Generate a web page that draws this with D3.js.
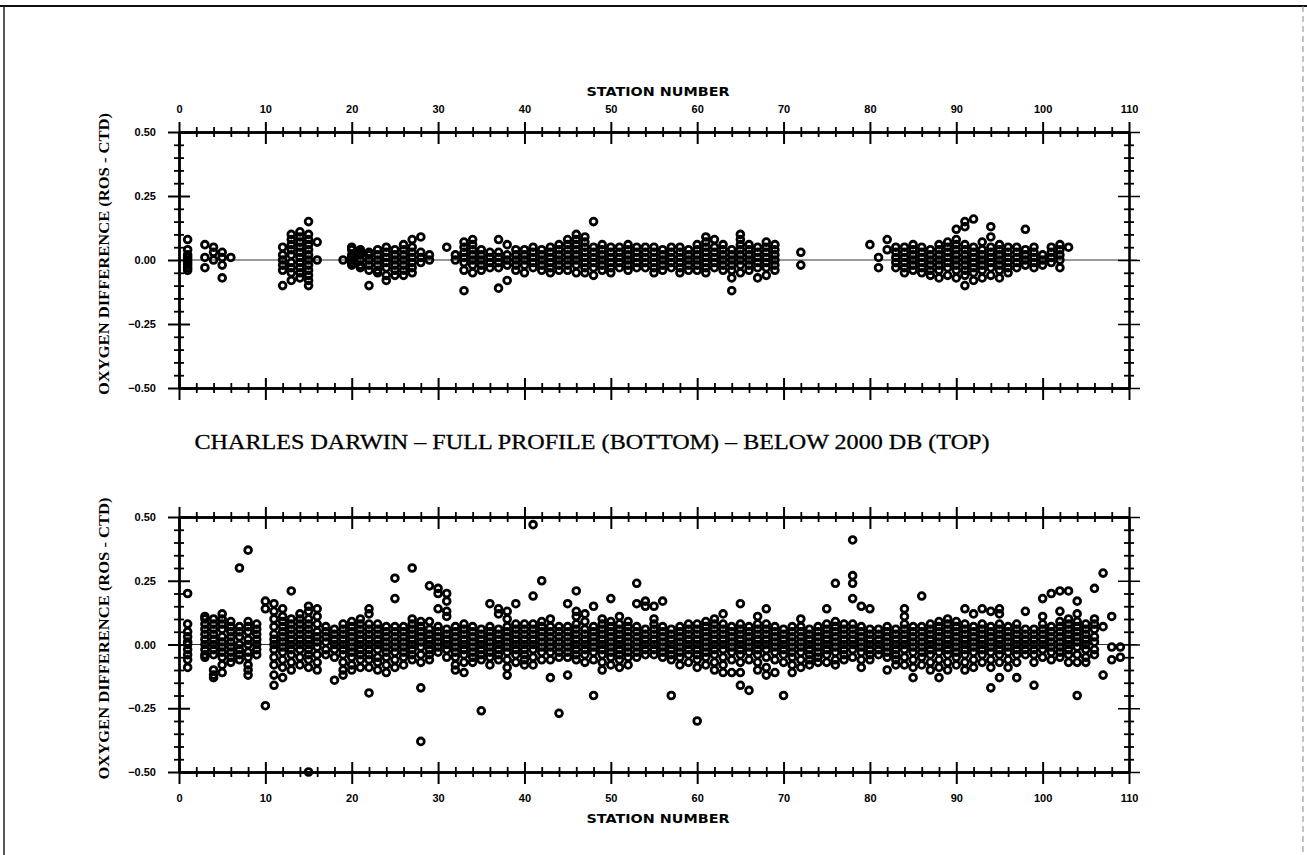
<!DOCTYPE html>
<html>
<head>
<meta charset="utf-8">
<script src="https://cdn.jsdelivr.net/npm/d3@7"></script>
<style>
  html, body { margin: 0; padding: 0; background: #fff; }
  svg { display: block; }
  .tick text { font-family: "Liberation Sans", Arial, sans-serif; font-weight: bold; font-size: 11px; fill: #000; }
</style>
</head>
<body>
<svg id="chart" width="1307" height="855"></svg>
<script>
// Station axis
const stationTicks = [0, 10, 20, 30, 40, 50, 60, 70, 80, 90, 100, 110];
const diffTicks = [-0.5, -0.25, 0, 0.25, 0.5];

// Samples below 2000 db (upper panel): station numbers and ROS - CTD oxygen differences
const stationsDeep = [1,3,4,5,6,12,13,14,15,16,19,20,21,22,23,24,25,26,27,28,29,31,32,
  33,34,35,36,37,38,39,40,41,42,43,44,45,46,47,48,49,50,51,52,53,54,55,56,57,58,59,60,
  61,62,63,64,65,66,67,68,69,72,80,81,82,83,84,85,86,87,88,89,90,91,92,93,94,95,96,97,
  98,99,100,101,102,103];
const oxyDiffDeep = [
  [.08,.04,.02,.01,0,-.01,-.02,-.03,-.04],
  [.06,.01,-.03],
  [.05,.03,0],
  [.03,.01,-.02,-.07],
  [.01],
  [.05,.02,0,-.02,-.04,-.1],
  [.1,.08,.06,.04,.02,-.01,-.03,-.05,-.08],
  [.11,.09,.07,.05,.03,.01,-.01,-.03,-.05,-.07],
  [.15,.1,.08,.06,.04,.02,0,-.02,-.04,-.06,-.08,-.1],
  [.07,0],
  [0],
  [.05,.04,.02,.01,0,-.01,-.02],
  [.04,.03,.02,0,-.02,-.03],
  [.03,.02,0,-.02,-.04,-.1],
  [.04,.02,0,-.02,-.04,-.05],
  [.05,.03,.01,-.01,-.03,-.06,-.08],
  [.04,.02,0,-.02,-.04,-.06],
  [.06,.04,.02,0,-.02,-.04,-.06],
  [.08,.05,.03,.01,-.01,-.03,-.05],
  [.09,.03,.01,-.01],
  [.02,0],
  [.05],
  [.02,0],
  [.07,.05,.03,.01,-.01,-.04,-.12],
  [.08,.06,.04,.02,0,-.02,-.05],
  [.04,.02,0,-.02,-.04],
  [.03,.01,-.01,-.03],
  [.08,.03,.01,-.01,-.03,-.11],
  [.06,.02,0,-.02,-.08],
  [.04,.02,0,-.02,-.04],
  [.04,.02,0,-.02,-.05],
  [.05,.03,.01,-.01,-.03],
  [.04,.02,0,-.02,-.04],
  [.05,.03,.01,-.01,-.03,-.05],
  [.06,.04,.02,0,-.02,-.04],
  [.08,.06,.04,.02,0,-.02,-.04],
  [.1,.08,.06,.04,.02,0,-.02,-.05],
  [.09,.07,.05,.03,.01,-.01,-.03,-.05],
  [.15,.05,.03,.01,-.01,-.03,-.06],
  [.06,.04,.02,0,-.02,-.04],
  [.05,.03,.01,-.01,-.03,-.05],
  [.05,.03,.01,-.01,-.03],
  [.06,.04,.02,0,-.02,-.04],
  [.05,.03,.01,-.01,-.03],
  [.05,.03,.01,-.01,-.03],
  [.05,.03,.01,-.01,-.03,-.05],
  [.04,.02,0,-.02,-.04],
  [.05,.03,.01,-.01,-.03],
  [.05,.03,.01,-.01,-.03,-.05],
  [.04,.02,0,-.02,-.04],
  [.06,.04,.02,0,-.02,-.04],
  [.09,.07,.05,.03,.01,-.01,-.03,-.05],
  [.08,.05,.03,.01,-.01,-.03],
  [.06,.04,.02,0,-.02,-.04],
  [.04,.02,0,-.02,-.04,-.07,-.12],
  [.1,.08,.06,.04,.02,0,-.02,-.05],
  [.06,.04,.02,0,-.02,-.04],
  [.05,.03,.01,-.01,-.03,-.07],
  [.07,.05,.03,.01,-.01,-.03,-.06],
  [.06,.04,.02,0,-.02,-.04],
  [.03,-.02],
  [.06],
  [.01,-.03],
  [.08,.04],
  [.05,.03,.01,-.01,-.03],
  [.05,.03,.01,-.01,-.03,-.05],
  [.06,.04,.02,0,-.02,-.04],
  [.05,.03,.01,-.01,-.03,-.05],
  [.04,.02,0,-.02,-.04,-.06],
  [.06,.04,.02,0,-.02,-.04,-.07],
  [.07,.05,.03,.01,-.01,-.03,-.06],
  [.12,.08,.06,.04,.02,0,-.02,-.04,-.07],
  [.15,.13,.06,.04,.02,0,-.02,-.04,-.06,-.1],
  [.16,.05,.03,.01,-.01,-.03,-.05,-.08],
  [.07,.04,.02,0,-.02,-.04,-.07],
  [.13,.09,.05,.03,.01,-.01,-.03,-.06],
  [.06,.04,.02,0,-.02,-.04,-.07],
  [.05,.03,.01,-.01,-.03,-.05],
  [.05,.03,.01,-.01,-.03],
  [.12,.04,.02,0,-.02],
  [.05,.03,.01,-.01,-.03],
  [.02,0,-.02],
  [.05,.03,.01,-.01],
  [.06,.04,.02,0,-.03],
  [.05]
];

// Full-profile samples (lower panel)
const stationsFull = [1,3,4,5,6,7,8,9,10,11,12,13,14,15,16,17,18,19,20,21,22,23,24,25,
  26,27,28,29,30,31,32,33,34,35,36,37,38,39,40,41,42,43,44,45,46,47,48,49,50,51,52,53,
  54,55,56,57,58,59,60,61,62,63,64,65,66,67,68,69,70,71,72,73,74,75,76,77,78,79,80,81,
  82,83,84,85,86,87,88,89,90,91,92,93,94,95,96,97,98,99,100,101,102,103,104,105,106,
  107,108,109];
const oxyDiffFull = [
  [.2,.08,.05,.03,.01,0,-.02,-.04,-.06,-.09],
  [.11,.1,.08,.06,.04,.02,0,-.02,-.04,-.05],
  [.1,.08,.06,.04,.02,0,-.02,-.04,-.1,-.12,-.13],
  [.12,.1,.08,.06,.03,.01,-.01,-.03,-.05,-.08,-.11],
  [.09,.07,.05,.03,.01,-.01,-.03,-.05,-.07],
  [.3,.07,.05,.03,0,-.02,-.04,-.06],
  [.37,.09,.07,.05,.02,0,-.03,-.05,-.08,-.1,-.12],
  [.08,.06,.04,.02,0,-.02,-.04],
  [.17,.14,-.24],
  [.16,.13,.1,.07,.04,.02,0,-.02,-.05,-.08,-.12,-.16],
  [.14,.11,.09,.07,.05,.03,.01,-.01,-.03,-.06,-.09,-.13],
  [.21,.1,.08,.06,.04,.02,0,-.02,-.04,-.07,-.1],
  [.12,.1,.08,.06,.04,.02,0,-.02,-.05,-.08],
  [.15,.13,.1,.08,.06,.04,.02,0,-.02,-.04,-.06,-.09,-.5],
  [.14,.11,.08,.05,.03,.01,-.01,-.04,-.07,-.1],
  [.07,.05,.03,.01,-.02,-.04],
  [.06,.04,.02,0,-.02,-.05,-.14],
  [.08,.06,.04,.02,0,-.02,-.04,-.07,-.1,-.12],
  [.09,.07,.05,.03,.01,-.01,-.03,-.05,-.08,-.1],
  [.1,.08,.06,.04,.02,0,-.02,-.04,-.06,-.09],
  [.14,.12,.08,.06,.04,.02,0,-.02,-.04,-.06,-.09,-.19],
  [.08,.06,.04,.02,0,-.02,-.05,-.07,-.1],
  [.07,.05,.03,.01,-.01,-.03,-.05,-.08,-.11],
  [.26,.18,.07,.05,.03,.01,-.01,-.03,-.06,-.09],
  [.07,.05,.03,.01,-.01,-.03,-.05,-.08],
  [.3,.1,.08,.06,.04,.02,0,-.02,-.04,-.06],
  [.09,.07,.05,.03,.01,-.01,-.04,-.07,-.17,-.38],
  [.23,.09,.06,.04,.02,0,-.02,-.04,-.06],
  [.22,.2,.14,.07,.05,.03,.01,-.01,-.03],
  [.2,.17,.13,.11,.06,.04,.02,0,-.02,-.05],
  [.07,.05,.03,.01,-.01,-.03,-.05,-.08,-.1],
  [.08,.06,.04,.02,0,-.02,-.04,-.07,-.11],
  [.07,.05,.03,.01,-.01,-.03,-.05,-.07],
  [.06,.04,.02,0,-.02,-.04,-.06,-.26],
  [.16,.07,.05,.03,.01,-.01,-.03,-.05,-.08],
  [.14,.12,.06,.04,.02,0,-.02,-.04,-.06],
  [.13,.1,.07,.05,.03,.01,-.01,-.03,-.06,-.09,-.12],
  [.16,.08,.06,.04,.02,0,-.02,-.04,-.07],
  [.08,.06,.04,.02,0,-.02,-.04,-.06,-.08],
  [.47,.19,.08,.06,.04,.02,0,-.02,-.05,-.08],
  [.25,.09,.07,.05,.03,.01,-.01,-.03,-.06],
  [.1,.07,.05,.03,.01,-.01,-.03,-.06,-.13],
  [.07,.05,.03,.01,-.01,-.03,-.05,-.27],
  [.16,.07,.05,.03,.01,-.01,-.03,-.05,-.12],
  [.21,.13,.11,.08,.06,.04,.02,0,-.02,-.04,-.06],
  [.12,.09,.06,.04,.02,0,-.02,-.04,-.07],
  [.15,.07,.05,.03,.01,-.01,-.03,-.06,-.2],
  [.1,.08,.06,.04,.02,0,-.02,-.04,-.07,-.1],
  [.18,.09,.07,.05,.03,.01,-.01,-.03,-.05,-.08],
  [.11,.08,.06,.04,.02,0,-.02,-.04,-.06,-.09],
  [.09,.07,.05,.03,.01,-.01,-.03,-.05,-.08],
  [.24,.16,.07,.05,.03,.01,-.01,-.03,-.05],
  [.17,.15,.06,.04,.02,0,-.02,-.04],
  [.15,.1,.08,.06,.04,.02,0,-.02,-.04],
  [.17,.07,.05,.03,.01,-.01,-.03,-.05],
  [.06,.04,.02,0,-.02,-.04,-.06,-.2],
  [.07,.05,.03,.01,-.01,-.03,-.05,-.08],
  [.08,.06,.04,.02,0,-.02,-.04,-.07],
  [.08,.06,.04,.02,0,-.02,-.04,-.06,-.09,-.3],
  [.09,.07,.05,.03,.01,-.01,-.03,-.05,-.08],
  [.1,.08,.06,.04,.02,0,-.02,-.04,-.07,-.1],
  [.12,.08,.06,.04,.02,0,-.02,-.05,-.08,-.11],
  [.07,.05,.03,.01,-.01,-.03,-.06,-.11],
  [.16,.08,.06,.04,.02,0,-.02,-.04,-.07,-.11,-.16],
  [.07,.05,.03,.01,-.01,-.03,-.06,-.18],
  [.11,.08,.06,.04,.02,0,-.02,-.04,-.07,-.1],
  [.14,.08,.06,.04,.02,0,-.02,-.05,-.09,-.12],
  [.07,.05,.03,.01,-.01,-.03,-.06,-.11],
  [.06,.04,.02,0,-.02,-.04,-.07,-.2],
  [.07,.05,.03,.01,-.01,-.03,-.05,-.08,-.11],
  [.1,.07,.05,.03,.01,-.01,-.03,-.06,-.09],
  [.06,.04,.02,0,-.02,-.04,-.06,-.08],
  [.07,.05,.03,.01,-.01,-.03,-.05,-.07],
  [.14,.08,.06,.04,.02,0,-.02,-.04,-.07],
  [.24,.09,.07,.05,.03,.01,-.01,-.03,-.06,-.08],
  [.08,.06,.04,.02,0,-.02,-.04,-.06],
  [.41,.27,.24,.18,.08,.06,.04,.02,0,-.02,-.05],
  [.15,.07,.05,.03,.01,-.01,-.03,-.06,-.09],
  [.14,.06,.04,.02,0,-.02,-.04,-.06],
  [.06,.04,.02,0,-.02,-.04],
  [.07,.05,.03,.01,-.01,-.03,-.05,-.1],
  [.06,.04,.02,0,-.02,-.04,-.06,-.08],
  [.14,.11,.08,.06,.04,.02,0,-.02,-.05,-.08],
  [.07,.05,.03,.01,-.01,-.03,-.06,-.09,-.13],
  [.19,.07,.05,.03,.01,-.01,-.03,-.05,-.08],
  [.08,.06,.04,.02,0,-.02,-.04,-.07,-.1],
  [.09,.07,.05,.03,.01,-.01,-.03,-.06,-.09,-.13],
  [.1,.08,.06,.04,.02,0,-.02,-.04,-.07,-.1],
  [.09,.07,.05,.03,.01,-.01,-.03,-.05,-.08],
  [.14,.08,.06,.04,.02,0,-.02,-.04,-.07,-.1],
  [.12,.07,.05,.03,.01,-.01,-.03,-.06,-.09],
  [.14,.08,.06,.04,.02,0,-.02,-.04,-.07],
  [.13,.07,.05,.03,.01,-.01,-.03,-.06,-.09,-.17],
  [.14,.12,.08,.06,.04,.02,0,-.02,-.04,-.07,-.13],
  [.07,.05,.03,.01,-.01,-.03,-.06,-.09],
  [.08,.06,.04,.02,0,-.02,-.04,-.07,-.13],
  [.13,.06,.04,.02,0,-.02,-.04],
  [.06,.04,.02,0,-.02,-.04,-.07,-.16],
  [.18,.11,.08,.06,.04,.02,0,-.02,-.05],
  [.2,.07,.05,.03,.01,-.01,-.03,-.06],
  [.21,.13,.09,.07,.05,.03,.01,-.01,-.03,-.05],
  [.21,.1,.08,.06,.04,.02,0,-.02,-.04,-.07],
  [.17,.12,.09,.07,.05,.03,.01,-.01,-.04,-.07,-.2],
  [.08,.06,.04,.02,0,-.02,-.05,-.07],
  [.22,.1,.08,.06,.03,.01,-.02,-.04],
  [.28,.07,-.12],
  [.11,-.01,-.06],
  [-.01,-.05]
];

const svg = d3.select("#chart");
const x = d3.scaleLinear().domain([0, 110]).range([179, 1129]);
const fmtDiff = d3.format(".2f");

// page frame
svg.append("line").attr("x1", 0).attr("x2", 1307).attr("y1", 6).attr("y2", 6)
  .attr("stroke", "#111").attr("stroke-width", 2);
svg.append("line").attr("x1", 4).attr("x2", 4).attr("y1", 6).attr("y2", 855)
  .attr("stroke", "#222").attr("stroke-width", 1.5);
svg.append("line").attr("x1", 1303).attr("x2", 1303).attr("y1", 6).attr("y2", 855)
  .attr("stroke", "#888").attr("stroke-width", 1).attr("stroke-dasharray", "6,4");

const panels = [
  { top: 132, bottom: 388, stations: stationsDeep, values: oxyDiffDeep, labelSide: "top" },
  { top: 517, bottom: 772, stations: stationsFull, values: oxyDiffFull, labelSide: "bottom" }
];

function styleAxis(sel, width) {
  sel.select(".domain").attr("stroke", "#000").attr("stroke-width", width);
  sel.selectAll(".tick line").attr("stroke", "#000").attr("stroke-width", width);
}

panels.forEach(p => {
  const y = d3.scaleLinear().domain([-0.5, 0.5]).range([p.bottom, p.top]);
  const g = svg.append("g");

  // zero reference line
  g.append("line")
    .attr("x1", x(0)).attr("x2", x(110) + 8)
    .attr("y1", y(0)).attr("y2", y(0))
    .attr("stroke", "#333").attr("stroke-width", 1);

  const xMinor = d3.range(0, 111, 2).filter(d => d % 10 !== 0);
  const yMinor = d3.range(-45, 50, 5).filter(d => d % 25 !== 0).map(d => d / 100);

  // horizontal axes: ticks cross the line on both sides
  [p.top, p.bottom].forEach(pos => {
    const showTop = pos === p.top && p.labelSide === "top";
    const showBottom = pos === p.bottom && p.labelSide === "bottom";
    const up = g.append("g").attr("transform", `translate(0,${pos})`)
      .call(d3.axisTop(x).tickValues(stationTicks).tickSize(10).tickSizeOuter(0)
        .tickPadding(9).tickFormat(showTop ? d3.format("d") : () => ""));
    styleAxis(up, 2);
    const down = g.append("g").attr("transform", `translate(0,${pos})`)
      .call(d3.axisBottom(x).tickValues(stationTicks).tickSize(12).tickSizeOuter(0)
        .tickPadding(10).tickFormat(showBottom ? d3.format("d") : () => ""));
    styleAxis(down, 2);
    const mUp = g.append("g").attr("transform", `translate(0,${pos})`)
      .call(d3.axisTop(x).tickValues(xMinor).tickSize(5).tickSizeOuter(0).tickFormat(() => ""));
    styleAxis(mUp, 1.8);
    const mDown = g.append("g").attr("transform", `translate(0,${pos})`)
      .call(d3.axisBottom(x).tickValues(xMinor).tickSize(5).tickSizeOuter(0).tickFormat(() => ""));
    styleAxis(mDown, 1.8);
  });

  // vertical axes
  [[x(0), true], [x(110), false]].forEach(([pos, labelled]) => {
    const left = g.append("g").attr("transform", `translate(${pos},0)`)
      .call(d3.axisLeft(y).tickValues(diffTicks).tickSize(11).tickSizeOuter(0)
        .tickPadding(12).tickFormat(labelled ? fmtDiff : () => ""));
    styleAxis(left, labelled ? 2 : 1.5);
    const right = g.append("g").attr("transform", `translate(${pos},0)`)
      .call(d3.axisRight(y).tickValues(diffTicks).tickSize(11).tickSizeOuter(0).tickFormat(() => ""));
    styleAxis(right, labelled ? 2 : 1.5);
    const mL = g.append("g").attr("transform", `translate(${pos},0)`)
      .call(d3.axisLeft(y).tickValues(yMinor).tickSize(5).tickSizeOuter(0).tickFormat(() => ""));
    styleAxis(mL, 1.8);
    const mR = g.append("g").attr("transform", `translate(${pos},0)`)
      .call(d3.axisRight(y).tickValues(yMinor).tickSize(5).tickSizeOuter(0).tickFormat(() => ""));
    styleAxis(mR, 1.8);
  });

  // sample markers
  const pts = p.stations.flatMap((s, i) => p.values[i].map(v => ({ s, v })));
  g.append("g").selectAll("circle").data(pts).join("circle")
    .attr("cx", d => x(d.s)).attr("cy", d => y(d.v))
    .attr("r", 3.4).attr("fill", "none")
    .attr("stroke", "#000").attr("stroke-width", 2.8);

  // vertical axis title
  g.append("text")
    .attr("transform", `translate(109,${(p.top + p.bottom) / 2 - 6}) rotate(-90)`)
    .attr("text-anchor", "middle")
    .attr("font-family", "'Liberation Serif', 'DejaVu Serif', serif")
    .attr("font-weight", "bold")
    .attr("font-size", 15)
    .attr("textLength", 282).attr("lengthAdjust", "spacingAndGlyphs")
    .text("OXYGEN DIFFERENCE (ROS - CTD)");

  // station axis title
  g.append("text")
    .attr("x", 658)
    .attr("y", p.labelSide === "top" ? 96 : 823)
    .attr("text-anchor", "middle")
    .attr("font-family", "'DejaVu Sans', sans-serif")
    .attr("font-weight", "bold").attr("font-size", 13)
    .attr("textLength", 143).attr("lengthAdjust", "spacingAndGlyphs")
    .text("STATION NUMBER");
});

// shared heading between the panels
svg.append("text")
  .attr("x", 592).attr("y", 449)
  .attr("text-anchor", "middle")
  .attr("font-family", "'Liberation Serif', 'DejaVu Serif', serif")
  .attr("font-size", 21)
  .attr("stroke", "#000").attr("stroke-width", 0.3)
  .attr("textLength", 795).attr("lengthAdjust", "spacingAndGlyphs")
  .text("CHARLES DARWIN – FULL PROFILE (BOTTOM) – BELOW 2000 DB (TOP)");
</script>
</body>
</html>
